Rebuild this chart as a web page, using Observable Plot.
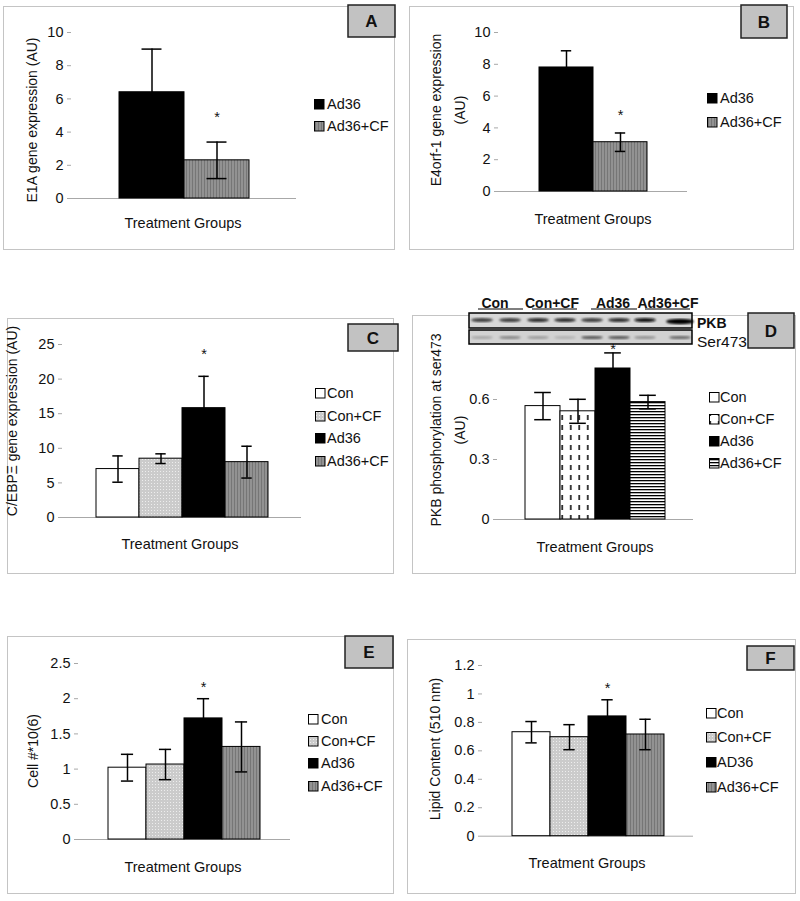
<!DOCTYPE html>
<html><head><meta charset="utf-8">
<script src="https://cdn.jsdelivr.net/npm/d3@7"></script>
<script src="https://cdn.jsdelivr.net/npm/@observablehq/plot@0.6"></script>
<style>
body{margin:0;background:#fff;font-family:"Liberation Sans",Arial,sans-serif;}
#page{position:relative;width:800px;height:901px;overflow:hidden;background:#fff;}
</style></head><body>
<svg width="0" height="0" style="position:absolute">
<defs>
<pattern id="pLight" width="3" height="3" patternUnits="userSpaceOnUse"><rect width="3" height="3" fill="#cbcbcb"/><rect x="1" y="1" width="1" height="1" fill="#ededed"/></pattern>
<pattern id="pGray" width="3" height="3" patternUnits="userSpaceOnUse"><rect width="3" height="3" fill="#929292"/><rect width="1" height="3" fill="#767676"/></pattern>
<pattern id="pDash" width="8.5" height="10" patternUnits="userSpaceOnUse"><rect width="8.5" height="10" fill="#fff"/><rect x="4" y="1" width="1.5" height="5" fill="#000"/></pattern>
<pattern id="pHoriz" width="4" height="3" patternUnits="userSpaceOnUse"><rect width="4" height="3" fill="#fff"/><rect width="4" height="1.3" fill="#000"/></pattern>
<filter id="blur1"><feGaussianBlur stdDeviation="0.8"/></filter>
</defs></svg>
<div id="page"></div>
<script>
// ---------- data ----------
const groups2 = ["Ad36", "Ad36+CF"];
const groups4 = ["Con", "Con+CF", "Ad36", "Ad36+CF"];
const groups4F = ["Con", "Con+CF", "AD36", "Ad36+CF"];

const e1aMean = [6.4, 2.3];      const e1aErr = [2.6, 1.1];
const e4orfMean = [7.8, 3.1];    const e4orfErr = [1.05, 0.58];
const cebpMean = [7.0, 8.5, 15.8, 8.0];        const cebpErr = [1.9, 0.7, 4.6, 2.3];
const pkbMean = [0.567, 0.541, 0.755, 0.587];  const pkbErr = [0.068, 0.06, 0.078, 0.034];
const cellMean = [1.02, 1.065, 1.72, 1.315];   const cellErr = [0.19, 0.215, 0.28, 0.355];
const lipidMean = [0.731, 0.696, 0.842, 0.715]; const lipidErr = [0.075, 0.088, 0.117, 0.107];

const starA = [{group: "Ad36+CF", value: 5.06}];
const starB = [{group: "Ad36+CF", value: 4.97}];
const starC = [{group: "Ad36", value: 24.0}];
const starD = [{group: "Ad36", value: 0.863}];
const starE = [{group: "Ad36", value: 2.19}];
const starF = [{group: "AD36", value: 1.06}];

const ticksA = [0, 2, 4, 6, 8, 10];
const ticksB = [0, 2, 4, 6, 8, 10];
const ticksC = [0, 5, 10, 15, 20, 25];
const ticksD = [0, 0.3, 0.6];
const ticksE = [0, 0.5, 1, 1.5, 2, 2.5];
const ticksF = [0, 0.2, 0.4, 0.6, 0.8, 1, 1.2];

const blotGroups = ["Con", "Con+CF", "Ad36", "Ad36+CF"];
const pkbBand = [0.8, 0.8, 0.85, 0.85, 0.8, 0.85, 0.95, 1.0];
const serBand = [0.2, 0.35, 0.25, 0.15, 0.6, 0.6, 0.3, 0.5];

// ---------- styles ----------
const fill2 = ["#000", "url(#pGray)"];
const fill4 = ["#fff", "url(#pLight)", "#000", "url(#pGray)"];
const fill4D = ["#fff", "url(#pDash)", "#000", "url(#pHoriz)"];
const FONT = "Liberation Sans, Arial, sans-serif";

const page = document.getElementById("page");

function panel(cfg) {
  const data = cfg.groups.map((g, i) => ({group: g, mean: cfg.mean[i], err: cfg.err[i]}));
  const ml = 50, mt = 15, mr = 6, mb = 12;
  const w = cfg.xEnd - cfg.axisX;
  const n = cfg.groups.length;
  const bw = w / (n + 2 * cfg.pad);
  const inset = (bw - cfg.capW) / 2;
  const chart = Plot.plot({
    width: w + ml + mr, height: (cfg.yZero - cfg.yMaxPx) + mt + mb,
    marginLeft: ml, marginRight: mr, marginTop: mt, marginBottom: mb,
    style: {background: "transparent", fontFamily: FONT, fontSize: "14.5px", color: "#111", overflow: "visible"},
    x: {domain: cfg.groups, type: "band", paddingInner: 0, paddingOuter: cfg.pad, axis: null},
    y: {domain: [0, cfg.yMax], axis: null},
    color: {domain: cfg.groups, range: cfg.fills},
    marks: [
      Plot.ruleY([0], {stroke: "#a8a8a8"}),
      Plot.axisY({ticks: cfg.ticks, tickFormat: d => String(d), tickSize: 4, tickPadding: 4, line: true,
        stroke: "#a8a8a8", fill: "#111", label: null}),
      Plot.barY(data, {x: "group", y: "mean", fill: "group", stroke: "#000", strokeWidth: 1}),
      Plot.ruleX(data, {x: "group", y1: d => d.mean - d.err, y2: d => d.mean + d.err, stroke: "#000", strokeWidth: 1.5}),
      Plot.tickY(data, {x: "group", y: d => d.mean + d.err, insetLeft: inset, insetRight: inset, stroke: "#000", strokeWidth: 1.5}),
      Plot.tickY(data, {x: "group", y: d => d.mean - d.err, insetLeft: inset, insetRight: inset, stroke: "#000", strokeWidth: 1.5}),
      Plot.text(cfg.stars, {x: "group", y: "value", text: () => "*", dy: 2.5, fill: "#111"})
    ]
  });
  chart.style.position = "absolute";
  chart.style.left = (cfg.axisX - ml) + "px";
  chart.style.top = (cfg.yMaxPx - mt) + "px";
  chart.style.maxWidth = "none";
  d3.select(chart).selectAll("g").filter(function() { return this.hasAttribute("font-size"); })
    .attr("font-size", 14.5);
  d3.select(chart).selectAll("text").style("font-size", "14.5px");
  page.appendChild(chart);
}

// underlay: panel boxes
const under = d3.select(page).append("svg").attr("width", 800).attr("height", 901)
  .style("position", "absolute").style("left", 0).style("top", 0);
const boxes = [[3.5, 6.5, 391, 243], [409.5, 6.5, 384, 243], [7.5, 318.5, 386, 255],
               [412.5, 315.5, 383, 258], [7.5, 636.5, 386, 257], [407.5, 639.5, 388, 254]];
boxes.forEach(b => under.append("rect").attr("x", b[0]).attr("y", b[1]).attr("width", b[2]).attr("height", b[3])
  .attr("fill", "none").attr("stroke", "#c4c4c4"));

panel({groups: groups2, mean: e1aMean, err: e1aErr, fills: fill2, stars: starA, ticks: ticksA,
  axisX: 71, xEnd: 296, yMaxPx: 32, yZero: 198, yMax: 10, pad: 0.73, capW: 20});
panel({groups: groups2, mean: e4orfMean, err: e4orfErr, fills: fill2, stars: starB, ticks: ticksB,
  axisX: 498, xEnd: 687, yMaxPx: 32, yZero: 191, yMax: 10, pad: 0.73, capW: 11});
panel({groups: groups4, mean: cebpMean, err: cebpErr, fills: fill4, stars: starC, ticks: ticksC,
  axisX: 62, xEnd: 301, yMaxPx: 344, yZero: 517, yMax: 25, pad: 0.74, capW: 11});
panel({groups: groups4, mean: pkbMean, err: pkbErr, fills: fill4D, stars: starD, ticks: ticksD,
  axisX: 497, xEnd: 693, yMaxPx: 339.3, yZero: 519.3, yMax: 0.9, pad: 0.77, capW: 17});
panel({groups: groups4, mean: cellMean, err: cellErr, fills: fill4, stars: starE, ticks: ticksE,
  axisX: 78, xEnd: 290, yMaxPx: 663.3, yZero: 839.3, yMax: 2.5, pad: 0.73, capW: 13});
panel({groups: groups4F, mean: lipidMean, err: lipidErr, fills: fill4, stars: starF, ticks: ticksF,
  axisX: 482, xEnd: 693, yMaxPx: 665, yZero: 835.7, yMax: 1.2, pad: 0.73, capW: 12});

// overlay
const ov = d3.select(page).append("svg").attr("width", 800).attr("height", 901)
  .style("position", "absolute").style("left", 0).style("top", 0)
  .style("font-family", FONT).style("fill", "#111");

// blot (panel D)
const blotX0 = 469, blotX1 = 692;
const laneX = [482, 510, 538, 565, 592, 619, 645, 680];
ov.append("rect").attr("x", blotX0).attr("y", 313).attr("width", blotX1 - blotX0).attr("height", 15)
  .attr("fill", "#d8d8d8").attr("stroke", "#000").attr("stroke-width", 1.5);
ov.append("rect").attr("x", blotX0).attr("y", 330).attr("width", blotX1 - blotX0).attr("height", 14)
  .attr("fill", "#d2d2d2").attr("stroke", "#000").attr("stroke-width", 1.5);
laneX.forEach((x, i) => {
  const last = i === laneX.length - 1;
  ov.append("ellipse").attr("cx", x).attr("cy", last ? 321.5 : 320).attr("rx", last ? 14 : 11).attr("ry", last ? 2.8 : 2)
    .attr("fill", d3.interpolateGreys(pkbBand[i])).attr("filter", "url(#blur1)");
  ov.append("ellipse").attr("cx", x).attr("cy", 337.5).attr("rx", 11).attr("ry", 1.6)
    .attr("fill", "#000").attr("fill-opacity", serBand[i]).attr("filter", "url(#blur1)");
});
const blotLabX = [495, 552, 613, 668];
const blotLine = [[478, 523], [532, 577], [591, 637], [645, 690]];
blotGroups.forEach((g, i) => {
  ov.append("text").attr("x", blotLabX[i]).attr("y", 308).attr("text-anchor", "middle")
    .attr("font-size", 14).attr("font-weight", "bold").text(g);
  ov.append("line").attr("x1", blotLine[i][0]).attr("x2", blotLine[i][1]).attr("y1", 309).attr("y2", 309)
    .attr("stroke", "#000").attr("stroke-width", 1.2);
});
ov.append("text").attr("x", 697).attr("y", 328).attr("font-size", 14).attr("font-weight", "bold").text("PKB");
ov.append("text").attr("x", 697).attr("y", 347).attr("font-size", 15.5).text("Ser473");

// panel letter boxes
const letters = [["A", 348, 5, 47, 32], ["B", 741, 5, 46, 33], ["C", 348, 324, 50, 27],
                 ["D", 748, 313, 46, 35], ["E", 345, 636, 48, 32], ["F", 747, 646, 47, 24]];
letters.forEach(([t, x, y, w, h]) => {
  ov.append("rect").attr("x", x).attr("y", y).attr("width", w).attr("height", h)
    .attr("fill", "#c2c2c2").attr("stroke", "#222").attr("stroke-width", 1.5);
  ov.append("text").attr("x", x + w / 2).attr("y", y + h / 2).attr("dy", "0.36em")
    .attr("text-anchor", "middle").attr("font-size", 17).attr("font-weight", "bold").text(t);
});

// legends
function legend(groups, fills, sqX, rows, textX) {
  groups.forEach((g, i) => {
    ov.append("rect").attr("x", sqX + 0.5).attr("y", rows[i] - 4.5).attr("width", 9.5).attr("height", 9.5)
      .attr("fill", fills[i]).attr("stroke", "#000").attr("stroke-width", 1);
    ov.append("text").attr("x", textX).attr("y", rows[i]).attr("dy", "0.36em").attr("font-size", 14.5).text(g);
  });
}
legend(groups2, fill2, 314, [104, 126], 327);
legend(groups2, fill2, 707, [98, 122], 720);
legend(groups4, fill4, 315, [393, 416, 438, 461], 327);
legend(groups4, fill4D, 709, [397, 419, 441, 463], 720);
legend(groups4, fill4, 308, [719, 741, 763, 786], 321);
legend(groups4F, fill4, 706, [713, 737, 762, 787], 717);

// axis titles
function ylab(lines, xs, cy) {
  lines.forEach((t, i) => {
    ov.append("text").attr("transform", `translate(${xs[i]},${cy}) rotate(-90)`)
      .attr("text-anchor", "middle").attr("dy", "0.36em").attr("font-size", 14).text(t);
  });
}
ylab(["E1A gene expression (AU)"], [32], 120);
ylab(["E4orf-1 gene expression", "(AU)"], [436, 460], 110);
ylab(["C/EBPΞ gene expression (AU)"], [12], 421);
ylab(["PKB phosphorylation at ser473", "(AU)"], [436, 460], 430);
ylab(["Cell #*10(6)"], [33], 751);
ylab(["Lipid Content (510 nm)"], [435], 749);

const xt = [[183, 223], [593, 219], [180, 544], [595, 547], [183, 867], [587, 863]];
xt.forEach(([x, y]) => ov.append("text").attr("x", x).attr("y", y).attr("dy", "0.36em")
  .attr("text-anchor", "middle").attr("font-size", 14.5).text("Treatment Groups"));
</script>
</body></html>
